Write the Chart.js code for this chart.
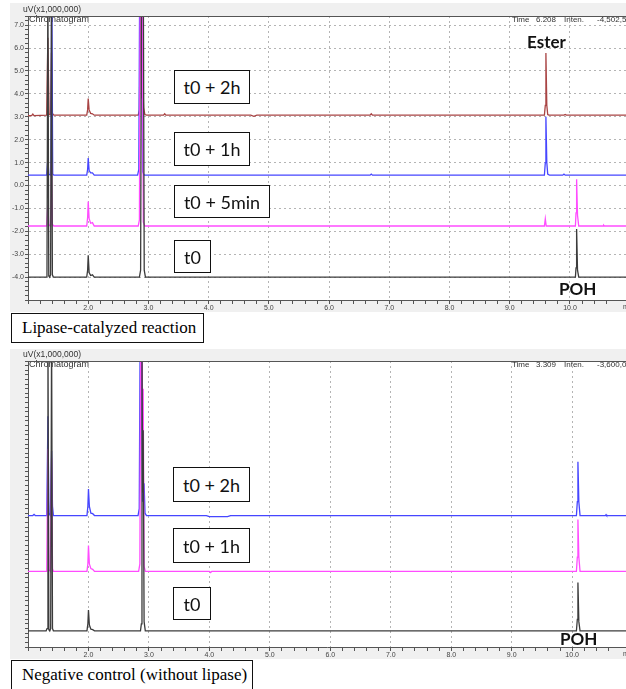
<!DOCTYPE html>
<html lang="en">
<head>
<meta charset="UTF-8">
<title>Chromatograms</title>
<style>
  * { box-sizing: border-box; margin: 0; padding: 0; }
  body { width: 626px; height: 689px; background: #fff; position: relative; overflow: hidden; font-family: "Liberation Sans", Arial, sans-serif; }
  canvas { position: absolute; left: 10px; display: block; }
  .tag { position: absolute; background: #fff; border: 1.5px solid #111; font-family: Lato, "Open Sans", sans-serif; font-size: 18px; color: #111; display: flex; align-items: center; justify-content: center; line-height: 1; }
  .peak { position: absolute; font-family: Lato, "Open Sans", sans-serif; font-weight: 700; font-size: 17px; line-height: 17px; color: #111; }
  .caption { position: absolute; left: 11px; height: 30px; border: 1.5px solid #111; background: #fff; font-family: "Liberation Serif", "Times New Roman", serif; font-size: 17px; padding-left: 10px; display: flex; align-items: center; }
</style>
</head>
<body>
<canvas id="lipase" width="616" height="309" style="top:3px"></canvas>
<canvas id="control" width="616" height="310" style="top:349px"></canvas>

<div class="tag" style="left:174px;top:70px;width:76px;height:34px">t0 + 2h</div>
<div class="tag" style="left:174px;top:132px;width:76px;height:34px">t0 + 1h</div>
<div class="tag" style="left:174px;top:185px;width:96px;height:33px">t0 + 5min</div>
<div class="tag" style="left:174px;top:240px;width:37px;height:33px">t0</div>
<div class="peak" style="left:527px;top:33px">Ester</div>
<div class="peak" style="left:559px;top:280px">POH</div>
<div class="caption" style="top:313px;width:193px">Lipase-catalyzed reaction</div>

<div class="tag" style="left:173px;top:467px;width:77px;height:35px">t0 + 2h</div>
<div class="tag" style="left:173px;top:528px;width:77px;height:35px">t0 + 1h</div>
<div class="tag" style="left:173px;top:587px;width:38px;height:33px">t0</div>
<div class="peak" style="left:560px;top:630px">POH</div>
<div class="caption" style="top:660px;width:242px">Negative control (without lipase)</div>

<script src="https://cdn.jsdelivr.net/npm/chart.js@4.4.0/dist/chart.umd.min.js"></script>
<script>
// ── Traces: [time (min), signal (uV x 1e6)] ──────────────────────────────────
// peaks that run off the top of the frame are given a value above the axis max
const lipaseT0 = [
  [1.00,-4.00],[1.30,-4.00],[1.315,-3.9],[1.33,9],[1.345,-3.95],[1.36,-4.00],[1.375,-3.9],[1.39,9],[1.405,-3.9],[1.42,-4.00],
  [1.975,-4.00],[1.99,-3.7],[2.00,-3.05],[2.015,-3.8],[2.04,-3.93],[2.07,-3.9],[2.10,-4.00],
  [2.85,-4.00],[2.87,-3.7],[2.885,9],[2.915,9],[2.93,-3.7],[2.95,-4.00],
  [10.09,-4.00],[10.10,-3.6],[10.11,-1.9],[10.125,-3.7],[10.145,-4.00],
  [10.95,-4.00]
];
const lipase5min = [
  [1.00,-1.77],[1.31,-1.77],[1.33,-0.85],[1.345,-1.7],[1.37,-1.77],[1.38,-1.5],[1.39,1.0],[1.405,-1.7],[1.43,-1.77],
  [1.975,-1.77],[1.99,-1.4],[2.00,-0.7],[2.015,-1.45],[2.04,-1.65],[2.07,-1.62],[2.10,-1.77],
  [2.83,-1.77],[2.85,-1.5],[2.865,9],[2.895,9],[2.915,-1.6],[2.94,-1.77],
  [9.575,-1.77],[9.59,-1.45],[9.605,-1.77],
  [10.09,-1.77],[10.10,-1.2],[10.11,0.27],[10.125,-1.3],[10.145,-1.77],
  [10.55,-1.77],[10.56,-1.74],[10.57,-1.77],[10.95,-1.77]
];
const lipase1h = [
  [1.00,0.45],[1.31,0.45],[1.33,1.2],[1.345,0.5],[1.37,0.45],[1.38,0.6],[1.395,9],[1.41,0.5],[1.43,0.45],
  [1.975,0.45],[1.99,0.7],[2.00,1.2],[2.015,0.65],[2.04,0.55],[2.07,0.55],[2.10,0.45],
  [2.82,0.45],[2.84,0.7],[2.855,9],[2.885,9],[2.905,0.6],[2.93,0.45],
  [6.68,0.45],[6.70,0.5],[6.72,0.45],
  [9.575,0.45],[9.59,1.0],[9.60,3.0],[9.615,1.0],[9.63,0.5],[9.66,0.45],
  [9.88,0.45],[9.90,0.5],[9.92,0.45],[10.95,0.45]
];
const lipase2h = [
  [1.00,3.05],[1.06,3.05],[1.08,3.12],[1.10,3.05],[1.31,3.07],[1.33,6.45],[1.35,3.1],[1.375,3.1],[1.39,5.8],[1.405,3.15],[1.43,3.07],
  [1.975,3.07],[1.99,3.3],[2.00,3.8],[2.015,3.3],[2.04,3.15],[2.07,3.13],[2.10,3.07],
  [2.83,3.07],[2.85,3.3],[2.87,9],[2.89,3.8],[2.905,4.7],[2.92,3.4],[2.94,3.1],[2.97,3.07],
  [3.25,3.07],[3.27,3.13],[3.29,3.07],
  [4.70,3.07],[4.75,3.02],[4.80,3.07],
  [6.68,3.07],[6.70,3.13],[6.72,3.07],
  [9.575,3.07],[9.59,3.5],[9.60,5.78],[9.615,3.5],[9.63,3.1],[9.65,3.07],
  [9.90,3.07],[9.92,3.1],[9.94,3.07],[10.95,3.07]
];

const controlT0 = [
  [1.00,-3.0],[1.30,-3.0],[1.315,-2.9],[1.33,10],[1.345,-2.95],[1.36,-3.0],[1.375,-2.9],[1.39,10],[1.405,-2.9],[1.42,-3.0],
  [1.975,-3.0],[1.99,-2.7],[2.00,-2.1],[2.015,-2.75],[2.04,-2.93],[2.07,-2.95],[2.10,-3.0],
  [2.86,-3.0],[2.875,-2.7],[2.885,10],[2.895,3.0],[2.905,5.7],[2.92,-2.6],[2.94,-3.0],
  [10.07,-3.0],[10.085,-2.5],[10.095,-0.9],[10.11,-2.6],[10.13,-3.0],[10.89,-3.0]
];
const control1h = [
  [1.00,-0.42],[1.31,-0.42],[1.33,4.9],[1.345,-0.35],[1.37,-0.42],[1.39,4.5],[1.405,-0.3],[1.42,-0.42],
  [1.975,-0.42],[1.99,-0.1],[2.00,0.7],[2.015,-0.1],[2.04,-0.3],[2.07,-0.33],[2.10,-0.42],
  [2.83,-0.42],[2.85,-0.1],[2.865,10],[2.885,10],[2.895,4.0],[2.905,7.5],[2.92,-0.2],[2.94,-0.42],
  [4.00,-0.42],[4.02,-0.47],[4.04,-0.42],
  [10.07,-0.42],[10.085,0.2],[10.095,1.83],[10.11,0.2],[10.13,-0.42],[10.89,-0.42]
];
const control2h = [
  [1.00,2.0],[1.08,2.0],[1.10,2.05],[1.12,2.0],[1.31,2.0],[1.33,6.3],[1.345,2.1],[1.37,2.0],[1.39,4.8],[1.405,2.4],[1.42,2.0],
  [1.975,2.0],[1.99,2.4],[2.00,3.15],[2.015,2.4],[2.04,2.1],[2.07,2.08],[2.10,2.0],
  [2.82,2.0],[2.84,2.3],[2.855,10],[2.875,10],[2.895,2.6],[2.92,3.4],[2.935,2.1],[2.96,2.0],
  [3.95,2.0],[4.00,1.95],[4.30,1.95],[4.35,2.0],
  [10.07,2.0],[10.085,2.6],[10.095,4.33],[10.11,2.6],[10.13,2.0],
  [10.55,2.0],[10.56,2.04],[10.57,2.0],[10.89,2.0]
];

// header texts of each chromatogram window
const lipaseHeader = ["Time", "6.208", "Inten.", "-4,502,500"];
const controlHeader = ["Time", "3.309", "Inten.", "-3,600,000"];

const COLORS = { t0: "#3c3c3c", t5: "#ff4cff", t1h: "#4646ff", t2h: "#a94444" };

const isMajor = (v) => Math.abs(v - Math.round(v)) < 1e-6;
const pts = (arr) => arr.map(([x, y]) => ({ x, y }));

// ── Frame plugin: grey window, white plot, header texts ──────────────────────
const framePlugin = {
  id: "frame",
  beforeDraw(chart) {
    const { ctx, chartArea: a, width, height } = chart;
    ctx.save();
    ctx.fillStyle = "#f0f0f0";
    ctx.fillRect(0, 0, width, height);
    ctx.fillStyle = "#fff";
    ctx.fillRect(a.left, a.top, a.right - a.left, a.bottom - a.top);
    ctx.fillStyle = "#333";
    ctx.textBaseline = "middle";
    ctx.font = "8.5px 'Liberation Sans', Arial";
    ctx.fillText("uV(x1,000,000)", a.left - 5, a.top - 6);
    ctx.font = "9px 'Liberation Sans', Arial";
    ctx.fillText("Chromatogram", a.left + 1, a.top + 4);
    const hdr = chart.options.plugins.frame.header;
    const xs = [502, 526, 554, 587];
    ctx.font = "8px 'Liberation Sans', Arial";
    hdr.forEach((t, i) => ctx.fillText(t, xs[i], a.top + 4));
    ctx.restore();
  },
  afterDraw(chart) {
    const { ctx, chartArea: a } = chart;
    ctx.save();
    ctx.strokeStyle = "#555";
    ctx.lineWidth = 1;
    ctx.beginPath();
    ctx.moveTo(a.left, a.top + 0.5);
    ctx.lineTo(a.right, a.top + 0.5);
    ctx.stroke();
    ctx.fillStyle = "#444";
    ctx.font = "7px 'Liberation Sans', Arial";
    ctx.textBaseline = "top";
    ctx.fillText("m", a.right - 3, a.bottom + 4);
    ctx.restore();
  },
};

function makeChart(id, series, xMax, yMin, yMax, header) {
  const datasets = series.map(([label, data, color]) => ({
    label,
    data: pts(data),
    borderColor: color,
    borderWidth: 1.3,
    showLine: true,
    pointRadius: 0,
    tension: 0,
    fill: false,
  }));
  const tickFont = { size: 7, family: "'Liberation Sans', Arial" };
  return new Chart(document.getElementById(id), {
    type: "scatter",
    data: { datasets },
    plugins: [framePlugin],
    options: {
      responsive: false,
      animation: false,
      events: [],
      layout: { padding: { top: id === "lipase" ? 13 : 12, left: 0, right: 0, bottom: 0 } },
      plugins: { legend: { display: false }, tooltip: { enabled: false }, frame: { header } },
      scales: {
        x: {
          type: "linear",
          min: 1.0,
          max: xMax,
          ticks: {
            stepSize: 0.2, autoSkip: false, maxRotation: 0, padding: 0,
            font: tickFont, color: "#444",
            callback: (v) => (isMajor(v) && v >= 2 && v <= 10 ? Math.round(v).toFixed(1) : ""),
          },
          grid: {
            color: (c) => (c.tick && isMajor(c.tick.value) && c.tick.value > 1.5 ? "#b4b4b4" : "transparent"),
            tickColor: "#555",
            tickLength: 4,
            lineWidth: 1,
          },
          border: { color: "#555", dash: [2, 3] },
          afterFit: (s) => { s.height = 12; },
        },
        y: {
          min: yMin,
          max: yMax,
          ticks: {
            stepSize: 0.2, autoSkip: false, padding: 1,
            font: tickFont, color: "#444",
            callback: (v) => (isMajor(v) && v > yMin + 0.5 ? Math.round(v).toFixed(1) : ""),
          },
          grid: {
            color: (c) => (c.tick && isMajor(c.tick.value) && c.tick.value > yMin + 0.5 ? "#b4b4b4" : "transparent"),
            tickColor: "#555",
            tickLength: 3,
            lineWidth: 1,
          },
          border: { color: "#555", dash: [2, 3] },
          afterFit: (s) => { s.width = 18; },
        },
      },
    },
  });
}

makeChart("lipase", [
  ["t0", lipaseT0, COLORS.t0],
  ["t0 + 5min", lipase5min, COLORS.t5],
  ["t0 + 1h", lipase1h, COLORS.t1h],
  ["t0 + 2h", lipase2h, COLORS.t2h],
], 10.93, -5.0, 7.4, lipaseHeader);

makeChart("control", [
  ["t0", controlT0, COLORS.t0],
  ["t0 + 1h", control1h, COLORS.t5],
  ["t0 + 2h", control2h, COLORS.t1h],
], 10.89, -3.7, 8.7, controlHeader);
</script>
</body>
</html>
